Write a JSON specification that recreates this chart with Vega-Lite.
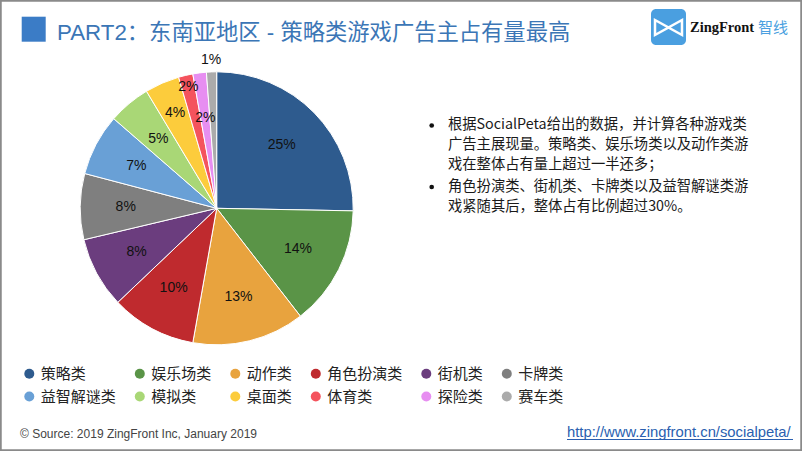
{
  "$schema": "https://vega.github.io/schema/vega-lite/v6.json",
  "width": 802,
  "height": 451,
  "autosize": "none",
  "padding": 0,
  "background": "white",
  "config": {"view": {"stroke": "#8a8a8a", "strokeWidth": 3.5}},
  "data": {"values": [
    {"rank": 1, "cat": "策略类", "share": 25.3, "label": "25%"},
    {"rank": 2, "cat": "娱乐场类", "share": 14.2, "label": "14%"},
    {"rank": 3, "cat": "动作类", "share": 13.3, "label": "13%"},
    {"rank": 4, "cat": "角色扮演类", "share": 10.1, "label": "10%"},
    {"rank": 5, "cat": "街机类", "share": 8.4, "label": "8%"},
    {"rank": 6, "cat": "卡牌类", "share": 7.8, "label": "8%"},
    {"rank": 7, "cat": "益智解谜类", "share": 7.3, "label": "7%"},
    {"rank": 8, "cat": "模拟类", "share": 5.0, "label": "5%"},
    {"rank": 9, "cat": "桌面类", "share": 4.1, "label": "4%"},
    {"rank": 10, "cat": "体育类", "share": 1.7, "label": "2%"},
    {"rank": 11, "cat": "探险类", "share": 1.6, "label": "2%"},
    {"rank": 12, "cat": "赛车类", "share": 1.2, "label": "1%"}
  ]},
  "layer": [
    {
      "mark": {"type": "arc", "outerRadius": 136.5, "stroke": "white", "strokeWidth": 1},
      "encoding": {
        "theta": {"field": "share", "type": "quantitative", "stack": true},
        "order": {"field": "rank", "type": "quantitative"},
        "x": {"value": 216.7},
        "y": {"value": 208.3},
        "color": {
          "field": "cat", "type": "nominal",
          "scale": {
            "domain": ["策略类", "娱乐场类", "动作类", "角色扮演类", "街机类", "卡牌类", "益智解谜类", "模拟类", "桌面类", "体育类", "探险类", "赛车类"],
            "range": ["#2e5b8e", "#5a9447", "#e8a33e", "#bf2a2e", "#6b3d7e", "#7f7f7f", "#69a0d6", "#a9d776", "#fccc3c", "#f4535d", "#e78ef1", "#ababab"]
          },
          "legend": {
            "orient": "none", "legendX": 21.8, "legendY": 366, "columns": 6, "direction": "horizontal",
            "title": null, "padding": 0,
            "symbolType": "circle", "symbolSize": 100, "symbolStrokeWidth": 0,
            "labelFont": "Noto Sans CJK SC", "labelFontSize": 15, "labelColor": "#222222",
            "labelOffset": 4, "columnPadding": 15.5, "rowPadding": 7, "labelLimit": 200
          }
        }
      }
    },
    {
      "mark": {
        "type": "text", "fontSize": 14, "font": "Liberation Sans", "color": "#111111",
        "align": "center", "baseline": "middle",
        "radius": {"expr": "datum.cat === '体育类' ? 125 : datum.cat === '赛车类' ? 148 : datum.cat === '桌面类' ? 104 : 91"}
      },
      "encoding": {
        "theta": {"field": "share", "type": "quantitative", "stack": true},
        "order": {"field": "rank", "type": "quantitative"},
        "x": {"value": 216.7},
        "y": {"value": 208.3},
        "text": {"field": "label", "type": "nominal"}
      }
    },
    {
      "data": {"values": [{}]},
      "mark": {"type": "rect", "x": 21.7, "x2": 45.7, "y": 16.7, "y2": 41.7, "fill": "#3b7cc6"}
    },
    {
      "data": {"values": [{}]},
      "mark": {"type": "text", "x": 57, "y": 40, "align": "left", "baseline": "alphabetic", "fontSize": 22.3, "font": "Liberation Sans, Noto Sans CJK SC", "fill": "#3b76b6", "text": "PART2：东南亚地区 - 策略类游戏广告主占有量最高"}
    },
    {
      "data": {"values": [{}]},
      "mark": {"type": "rect", "x": 651, "x2": 686, "y": 9, "y2": 45, "fill": "#4a9fe0", "cornerRadius": 5}
    },
    {
      "data": {"values": [{}]},
      "mark": {"type": "point", "shape": "M-0.9,-0.5 L0,0 L-0.9,0.5 Z M0.9,-0.5 L0,0 L0.9,0.5 Z", "filled": false, "stroke": "white", "strokeWidth": 2.5, "size": 900, "opacity": 1},
      "encoding": {"x": {"value": 668.5}, "y": {"value": 27.5}}
    },
    {
      "data": {"values": [{}]},
      "mark": {"type": "text", "x": 690, "y": 27.5, "align": "left", "baseline": "middle", "fontSize": 14.5, "fontWeight": "bold", "font": "Liberation Sans Narrow", "fill": "#111111", "text": "ZingFront"}
    },
    {
      "data": {"values": [{}]},
      "mark": {"type": "text", "x": 758, "y": 27.5, "align": "left", "baseline": "middle", "fontSize": 15, "font": "Noto Sans CJK SC", "fill": "#4a9fe0", "text": "智线"}
    },
    {
      "data": {"values": [{}]},
      "mark": {"type": "point", "shape": "circle", "filled": true, "fill": "#111111", "size": 22, "opacity": 1},
      "encoding": {"x": {"value": 431.7}, "y": {"value": 125.5}}
    },
    {
      "data": {"values": [{}]},
      "mark": {"type": "point", "shape": "circle", "filled": true, "fill": "#111111", "size": 22, "opacity": 1},
      "encoding": {"x": {"value": 431.7}, "y": {"value": 187}}
    },
    {
      "data": {"values": [{}]},
      "mark": {"type": "text", "x": 448, "y": 125, "align": "left", "baseline": "middle", "fontSize": 14.3, "lineHeight": 20, "font": "Noto Sans CJK SC", "fill": "#1a1a1a",
        "text": ["根据SocialPeta给出的数据，并计算各种游戏类", "广告主展现量。策略类、娱乐场类以及动作类游", "戏在整体占有量上超过一半还多；"]}
    },
    {
      "data": {"values": [{}]},
      "mark": {"type": "text", "x": 448, "y": 186.7, "align": "left", "baseline": "middle", "fontSize": 14.3, "lineHeight": 20, "font": "Noto Sans CJK SC", "fill": "#1a1a1a",
        "text": ["角色扮演类、街机类、卡牌类以及益智解谜类游", "戏紧随其后，整体占有比例超过30%。"]}
    },
    {
      "data": {"values": [{}]},
      "mark": {"type": "text", "x": 20, "y": 434, "align": "left", "baseline": "middle", "fontSize": 12, "font": "Liberation Sans", "fill": "#444444", "text": "© Source: 2019 ZingFront Inc, January 2019"}
    },
    {
      "data": {"values": [{}]},
      "mark": {"type": "text", "x": 567, "y": 437, "align": "left", "baseline": "alphabetic", "fontSize": 14.8, "font": "Liberation Sans", "fill": "#2a5fb0", "text": "http://www.zingfront.cn/socialpeta/"}
    },
    {
      "data": {"values": [{}]},
      "mark": {"type": "rule", "color": "#2a5fb0", "strokeWidth": 1},
      "encoding": {"x": {"value": 567}, "x2": {"value": 793}, "y": {"value": 439.5}}
    }
  ]
}
